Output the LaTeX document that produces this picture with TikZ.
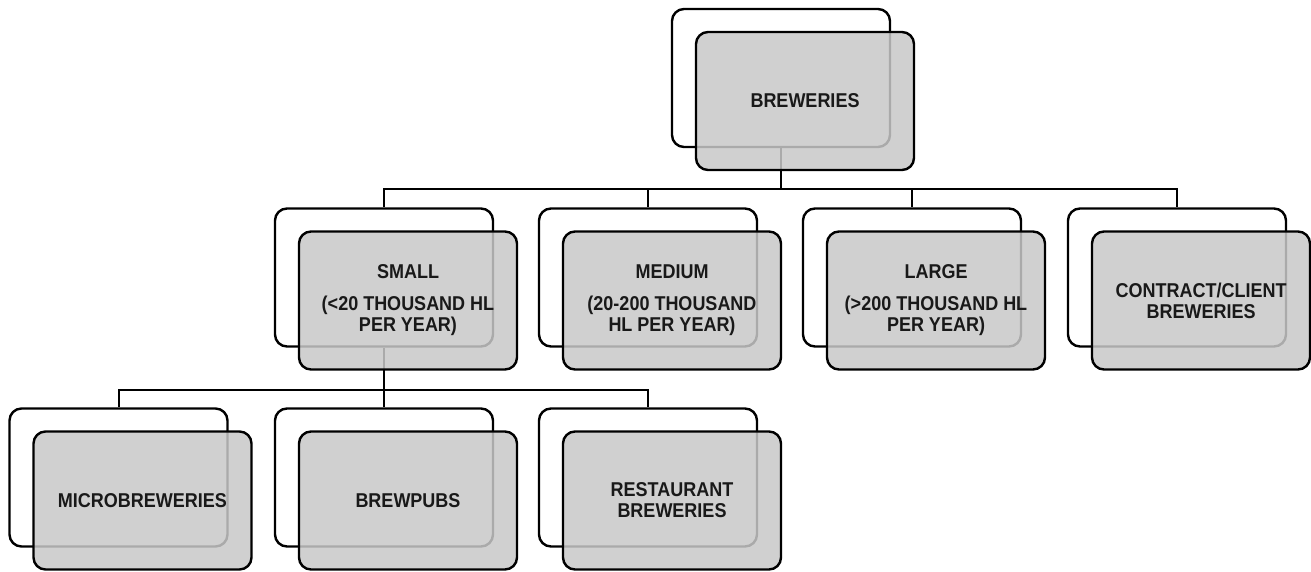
\documentclass[tikz,border=0pt]{standalone}
\usepackage{fontspec}
\newfontfamily\labfont[FakeStretch=0.9]{Liberation Sans}
\begin{document}
\begin{tikzpicture}[x=1pt,y=-1pt,
  backbox/.style={draw=black,line width=2.4pt,rounded corners=12pt,fill=white,
    minimum width=218pt,minimum height=138pt,inner sep=0pt},
  frontbox/.style={draw=black,line width=2.4pt,rounded corners=12pt,fill={rgb,255:red,200;green,200;blue,200},
    fill opacity=0.85,text opacity=1,text=black!90,
    minimum width=218pt,minimum height=138pt,inner sep=0pt,align=center,
    font=\labfont\bfseries\fontsize{20pt}{21pt}\selectfont},
  link/.style={draw=black,line width=2pt}]
\useasboundingbox (0,0) rectangle (1311,571);
% back boxes
\node[backbox] (b0) at (781,78) {};
\node[backbox] (b1) at (384,277.5) {};
\node[backbox] (b2) at (648,277.5) {};
\node[backbox] (b3) at (912,277.5) {};
\node[backbox] (b4) at (1177,277.5) {};
\node[backbox] (b5) at (118.5,477.5) {};
\node[backbox] (b6) at (384,477.5) {};
\node[backbox] (b7) at (648,477.5) {};
% connectors
\coordinate (j1) at (781,189);
\coordinate (j2) at (384,390);
\draw[link] (b0.south) -- (j1);
\draw[link] (j1) -| (b1.north);
\draw[link] (j1) -| (b2.north);
\draw[link] (j1) -| (b3.north);
\draw[link] (j1) -| (b4.north);
\draw[link] (b1.south) -- (j2);
\draw[link] (j2) -| (b5.north);
\draw[link] (j2) -- (b6.north);
\draw[link] (j2) -| (b7.north);
% front boxes
\node[frontbox] (f0) at (805,101) {BREWERIES};
\node[frontbox] (f1) at (408,300.5) {SMALL\\[11pt](<20 THOUSAND HL\\PER YEAR)};
\node[frontbox] (f2) at (672,300.5) {MEDIUM\\[11pt](20-200 THOUSAND\\HL PER YEAR)};
\node[frontbox] (f3) at (936,300.5) {LARGE\\[11pt](>200 THOUSAND HL\\PER YEAR)};
\node[frontbox] (f4) at (1201,300.5) {CONTRACT/CLIENT\\BREWERIES};
\node[frontbox] (f5) at (142.5,500.5) {MICROBREWERIES};
\node[frontbox] (f6) at (408,500.5) {BREWPUBS};
\node[frontbox] (f7) at (672,500.5) {RESTAURANT\\BREWERIES};
\end{tikzpicture}
\end{document}
